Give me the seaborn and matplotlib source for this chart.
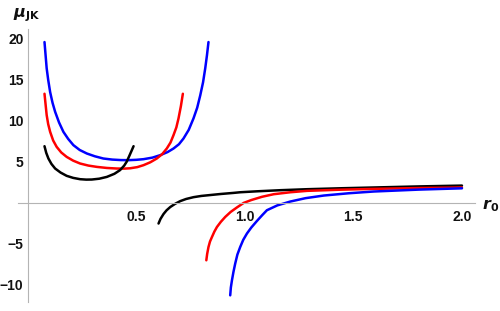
import matplotlib
matplotlib.use("Agg")
import matplotlib.pyplot as plt
import numpy as np
import pandas as pd
import seaborn as sns
from matplotlib.ticker import MultipleLocator, FixedLocator

# values (r0, mu_JK)
blue_left_r = [0.078, 0.083, 0.088, 0.095, 0.104, 0.115, 0.127, 0.145, 0.165, 0.187, 0.211, 0.240, 0.273,
               0.310, 0.349, 0.390, 0.430, 0.465, 0.500, 0.534, 0.575, 0.611, 0.645, 0.672, 0.697, 0.718,
               0.742, 0.764, 0.781, 0.795, 0.808, 0.818, 0.826, 0.833]
blue_left_mu = [19.6, 18.0, 16.4, 15.0, 13.5, 12.2, 11.1, 9.8, 8.66, 7.8, 7.04, 6.45, 6.02,
                5.68, 5.41, 5.28, 5.22, 5.21, 5.25, 5.33, 5.52, 5.82, 6.2, 6.63, 7.15, 7.85,
                8.9, 10.3, 11.6, 13.1, 14.7, 16.4, 18.0, 19.6]
red_left_r = [0.078, 0.083, 0.088, 0.095, 0.104, 0.118, 0.134, 0.155, 0.180, 0.210, 0.242, 0.280, 0.319,
              0.365, 0.411, 0.445, 0.472, 0.505, 0.534, 0.565, 0.595, 0.620, 0.641, 0.658, 0.672, 0.685,
              0.695, 0.706, 0.715]
red_left_mu = [13.3, 12.0, 10.7, 9.6, 8.66, 7.6, 6.83, 6.15, 5.61, 5.15, 4.80, 4.55, 4.39,
               4.26, 4.19, 4.18, 4.22, 4.36, 4.60, 4.95, 5.41, 5.95, 6.63, 7.35, 8.26, 9.2,
               10.3, 11.8, 13.3]
black_left_r = [0.078, 0.086, 0.096, 0.110, 0.127, 0.152, 0.180, 0.210, 0.242, 0.270, 0.296, 0.330,
                0.365, 0.400, 0.426, 0.445, 0.457, 0.468, 0.478, 0.488]
black_left_mu = [6.91, 6.1, 5.41, 4.75, 4.19, 3.70, 3.30, 3.05, 2.89, 2.84, 2.85, 2.95,
                 3.17, 3.55, 4.0, 4.55, 5.05, 5.7, 6.3, 6.91]

black_right_r = [0.603, 0.612, 0.626, 0.640, 0.657, 0.680, 0.703, 0.730, 0.764, 0.800, 0.841, 0.890,
                 0.948, 0.979, 1.060, 1.164, 1.287, 1.450, 1.594, 1.800, 2.0]
black_right_mu = [-2.51, -1.95, -1.35, -0.90, -0.50, -0.10, 0.22, 0.48, 0.70, 0.85, 0.96, 1.09,
                  1.22, 1.30, 1.42, 1.55, 1.67, 1.79, 1.88, 2.01, 2.11]
red_right_r = [0.823, 0.827, 0.833, 0.840, 0.849, 0.860, 0.872, 0.890, 0.910, 0.935, 0.964, 0.995,
               1.030, 1.080, 1.133, 1.210, 1.287, 1.440, 1.594, 1.800, 2.0]
red_right_mu = [-6.99, -6.2, -5.37, -4.7, -4.15, -3.5, -2.93, -2.3, -1.71, -1.1, -0.55, 0.0,
                0.35, 0.75, 1.06, 1.30, 1.47, 1.61, 1.71, 1.81, 1.88]
blue_right_r = [0.933, 0.936, 0.941, 0.948, 0.956, 0.966, 0.979, 0.993, 1.010, 1.030, 1.056, 1.080,
                1.102, 1.150, 1.210, 1.280, 1.364, 1.480, 1.594, 1.800, 2.0]
blue_right_mu = [-11.26, -10.3, -9.43, -8.4, -7.39, -6.3, -5.37, -4.5, -3.73, -3.0, -2.2, -1.5,
                 -0.89, -0.30, 0.17, 0.58, 0.90, 1.18, 1.39, 1.62, 1.78]

branches = [
    (blue_left_r, blue_left_mu, "#0000ff"),
    (red_left_r, red_left_mu, "#ff0000"),
    (black_left_r, black_left_mu, "#000000"),
    (black_right_r, black_right_mu, "#000000"),
    (red_right_r, red_right_mu, "#ff0000"),
    (blue_right_r, blue_right_mu, "#0000ff"),
]

sns.set_style("white")
plt.rcParams['font.family'] = ['Liberation Sans', 'DejaVu Sans']
plt.rcParams['mathtext.fontset'] = 'dejavusans'

fig = plt.figure(figsize=(5, 3.11), dpi=100)
ax = fig.add_axes([0.036, 0.029, 0.914, 0.878])

for r, mu, col in branches:
    sns.lineplot(x=r, y=mu, color=col, lw=1.8, sort=False, estimator=None, ax=ax)

ax.set_xlim(-0.044, 2.06)
ax.set_ylim(-12.07, 21.2)

# axes crossing at the origin
for s in ["top", "right"]:
    ax.spines[s].set_visible(False)
ax.spines["left"].set_position(("data", 0))
ax.spines["bottom"].set_position(("data", 0))
for s in ["left", "bottom"]:
    ax.spines[s].set_color("#b4b4b4")
    ax.spines[s].set_linewidth(0.8)

ax.xaxis.set_major_locator(FixedLocator([0.5, 1.0, 1.5, 2.0]))
ax.xaxis.set_minor_locator(MultipleLocator(0.1))
ax.yaxis.set_major_locator(FixedLocator([-10, -5, 5, 10, 15, 20]))
ax.yaxis.set_minor_locator(MultipleLocator(1))
ax.set_xticklabels(["0.5", "1.0", "1.5", "2.0"])
ax.set_yticklabels(["\u221210", "\u22125", "5", "10", "15", "20"])

ax.tick_params(axis="both", which="major", direction="in", length=4, width=0.7,
               color="#b4b4b4", labelsize=10, labelcolor="#111111")
ax.tick_params(axis="both", which="minor", direction="in", length=2.2, width=0.6,
               color="#c8c8c8")
ax.tick_params(axis="x", which="major", pad=5)
ax.tick_params(axis="y", which="major", pad=3)
for lab in ax.get_xticklabels() + ax.get_yticklabels():
    lab.set_fontweight("bold")
ax.grid(False)

fig.text(0.054, 0.952, r"$\boldsymbol{\mu}_{\mathbf{JK}}$", fontsize=11.5,
         ha="center", va="center", color="#111111")
fig.text(0.964, 0.338, r"$\boldsymbol{r}_{\mathbf{0}}$", fontsize=11.5,
         ha="left", va="center", color="#111111")

fig.savefig("out.png", dpi=100)
